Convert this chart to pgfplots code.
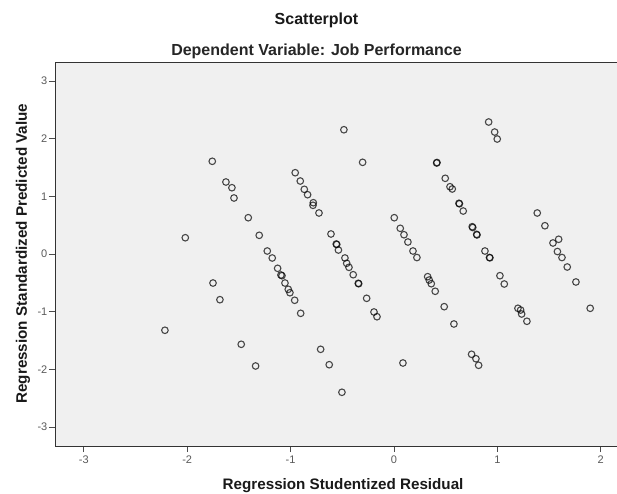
\documentclass[border=0pt]{standalone}
\usepackage{pgfplots}
\pgfplotsset{compat=1.18}
\usepackage{fontspec}
\setmainfont{Liberation Sans}
\definecolor{plotbg}{HTML}{F0F0F0}
\definecolor{ticklab}{HTML}{5A5A5A}
\begin{document}
\begin{tikzpicture}[x=1pt,y=1pt]
\path[use as bounding box, fill=white] (0,0) rectangle (617,493);
\begin{axis}[
  at={(55pt,47pt)}, anchor=south west,
  width=566pt, height=384pt, scale only axis,
  xmin=-3.278, xmax=2.196, ymin=-3.328, ymax=3.328,
  axis background/.style={fill=plotbg},
  axis line style={draw=black!80, line width=0.9pt},
  xtick={-3,-2,-1,0,1,2}, ytick={-3,-2,-1,0,1,2,3},
  tick pos=left, tick align=outside, major tick length=6pt,
  tick style={draw=black!70, line width=0.8pt},
  /pgf/number format/assume math mode=true,
  tick label style={font=\fontsize{11}{11}\selectfont, text=ticklab},
  yticklabel style={inner sep=1.5pt},
  xlabel={Regression Studentized Residual},
  ylabel={Regression Standardized Predicted Value},
  xlabel style={font=\fontsize{15.2}{15.2}\selectfont\bfseries, text=black!90,
    at={(axis description cs:0.509,0)}, anchor=center, yshift=-39.4pt},
  ylabel style={font=\fontsize{15.2}{15.2}\selectfont\bfseries, text=black!90,
    at={(axis description cs:0,0.501)}, anchor=center, yshift=32pt},
  clip=false,
]
\addplot[only marks, mark=o, mark size=3.3pt,
  mark options={draw=black, draw opacity=0.7, line width=1.1pt}]
coordinates {
(-1.757,1.607) (-1.625,1.248) (-1.567,1.149) (-1.547,0.971) (-1.409,0.629)
(-1.303,0.324) (-1.225,0.052) (-1.177,-0.069) (-1.125,-0.248) (-1.093,-0.364)
(-1.083,-0.376) (-1.054,-0.503) (-1.022,-0.612) (-1.006,-0.671) (-0.960,-0.802)
(-0.902,-1.028)
(-2.018,0.282) (-1.750,-0.503) (-1.683,-0.792) (-2.215,-1.322) (-1.477,-1.565) (-1.338,-1.941)
(-0.955,1.409) (-0.906,1.265) (-0.867,1.121) (-0.835,1.028) (-0.780,0.889) (-0.783,0.844)
(-0.725,0.711) (-0.609,0.347) (-0.558,0.173) (-0.553,0.165) (-0.537,0.069) (-0.474,-0.069)
(-0.457,-0.161) (-0.435,-0.231) (-0.394,-0.359) (-0.341,-0.515) (-0.345,-0.508)
(-0.264,-0.768) (-0.193,-1.005) (-0.164,-1.087)
(-0.709,-1.652) (-0.626,-1.919) (-0.503,-2.397) (-0.484,2.154) (-0.303,1.589)
(0.003,0.629) (0.061,0.445) (0.097,0.334) (0.135,0.208) (0.184,0.052) (0.222,-0.061)
(0.326,-0.393) (0.341,-0.451) (0.361,-0.515) (0.399,-0.646) (0.486,-0.913) (0.580,-1.213)
(0.087,-1.889)
(0.413,1.577) (0.416,1.586) (0.496,1.312) (0.542,1.166) (0.564,1.127) (0.629,0.879) (0.633,0.870)
(0.670,0.745) (0.757,0.473) (0.762,0.459) (0.800,0.341) (0.803,0.330) (0.880,0.052)
(0.924,-0.061) (0.928,-0.066) (1.025,-0.376) (1.067,-0.520) (1.199,-0.941) (1.225,-0.971)
(1.235,-1.040) (1.286,-1.166)
(0.916,2.288) (0.974,2.114) (0.999,1.993) (0.751,-1.738) (0.793,-1.815) (0.819,-1.929)
(1.386,0.711) (1.460,0.490) (1.593,0.255) (1.538,0.191) (1.581,0.043) (1.625,-0.061)
(1.676,-0.225) (1.760,-0.485) (1.898,-0.941)
};
\end{axis}
\node[font=\fontsize{16}{16}\selectfont\bfseries, text=black!90] at (316.5,473) {Scatterplot};
\node[font=\fontsize{16}{16}\selectfont\bfseries, text=black!85] at (316.5,442) {Dependent Variable: Job Performance};
\end{tikzpicture}
\end{document}
